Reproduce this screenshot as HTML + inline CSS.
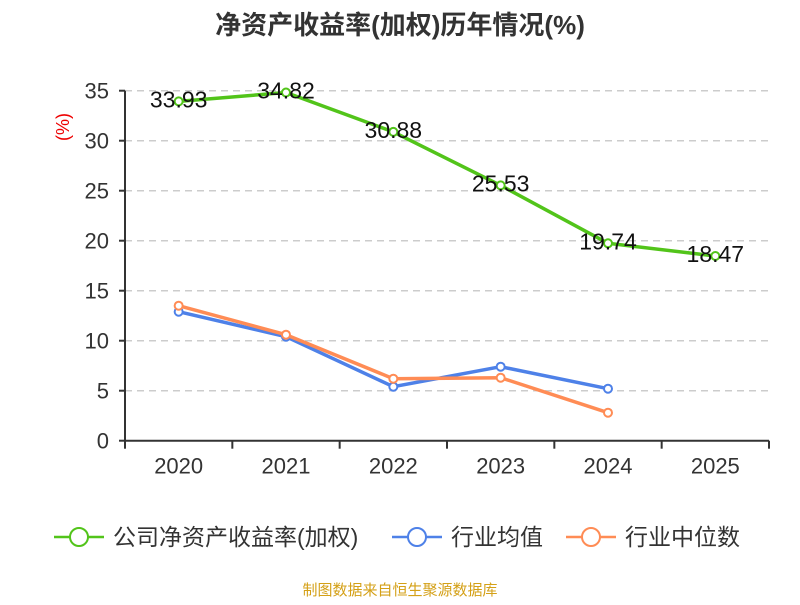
<!DOCTYPE html>
<html><head><meta charset="utf-8"><style>
body{margin:0;background:#fff;}
svg text{font-family:"Liberation Sans","Noto Sans CJK SC",sans-serif;}
</style></head><body>
<svg id="chart" width="800" height="600" viewBox="0 0 800 600" xmlns="http://www.w3.org/2000/svg">
<text x="400" y="34" text-anchor="middle" font-size="26" font-weight="bold" fill="#333">净资产收益率(加权)历年情况(%)</text>
<text transform="translate(69,127) rotate(-90)" text-anchor="middle" font-size="18" fill="#e00">(%)</text>
<g id="grid"></g><g id="axes"></g><g id="series"></g>
<g>
<g><line x1="54" y1="537" x2="104" y2="537" stroke="#52c41a" stroke-width="2.5"/><circle cx="79" cy="537" r="9" fill="#fff" stroke="#52c41a" stroke-width="2"/><text x="113" y="545" font-size="23" fill="#333">公司净资产收益率(加权)</text></g>
<g><line x1="392" y1="537" x2="442" y2="537" stroke="#4e81e8" stroke-width="2.5"/><circle cx="417" cy="537" r="9" fill="#fff" stroke="#4e81e8" stroke-width="2"/><text x="451" y="545" font-size="23" fill="#333">行业均值</text></g>
<g><line x1="566" y1="537" x2="616" y2="537" stroke="#ff8c55" stroke-width="2.5"/><circle cx="591" cy="537" r="9" fill="#fff" stroke="#ff8c55" stroke-width="2"/><text x="625" y="545" font-size="23" fill="#333">行业中位数</text></g>
</g>
<text x="400" y="595" text-anchor="middle" font-size="15" fill="#d4a017">制图数据来自恒生聚源数据库</text>
</svg>
<script>
const categories=["2020","2021","2022","2023","2024","2025"];
const companyValues=[33.93,34.82,30.88,25.53,19.74,18.47];
const avgValues=[12.9,10.4,5.4,7.4,5.2];
const medianValues=[13.5,10.6,6.2,6.3,2.8];
const yTicks=[0,5,10,15,20,25,30,35];
const NS="http://www.w3.org/2000/svg";
const x0=125,x1=769,y0=440.7,pxPer=10;
const band=(x1-x0)/categories.length;
const xPos=i=>x0+band*(i+0.5);
const yPos=v=>y0-v*pxPer;
function mk(tag,attrs,parent){const e=document.createElementNS(NS,tag);for(const k in attrs)e.setAttribute(k,attrs[k]);parent.appendChild(e);return e;}
const grid=document.getElementById('grid'),axes=document.getElementById('axes'),series=document.getElementById('series');
yTicks.forEach(t=>{
  if(t>0){const g=mk('line',{x1:x0,x2:x1,y1:yPos(t),y2:yPos(t),stroke:'#ccc','stroke-width':1.5,'stroke-dasharray':'7,5'},grid);
  
  }
  const tk=mk('line',{x1:x0-6,x2:x0,y1:yPos(t),y2:yPos(t),stroke:'#333','stroke-width':2},axes);
  
  
  const lb=mk('text',{x:x0-16,y:yPos(t)+8,'text-anchor':'end','font-size':22,fill:'#333'},axes);lb.textContent=t;
  
  
});
const ya=mk('line',{x1:x0,x2:x0,y1:yPos(35),y2:y0,stroke:'#333','stroke-width':2},axes);


const xa=mk('line',{x1:x0,x2:x1,y1:y0,y2:y0,stroke:'#333','stroke-width':2},axes);


for(let i=0;i<=categories.length;i++){const t=mk('line',{x1:x0+band*i,x2:x0+band*i,y1:y0,y2:y0+8,stroke:'#333','stroke-width':2},axes);
  
  }
categories.forEach((c,i)=>{const l=mk('text',{x:xPos(i),y:y0+33,'text-anchor':'middle','font-size':22,fill:'#333'},axes);l.textContent=c;
  
  });
function draw(vals,color,name,labels){
  const g=mk('g',{},series);
  
  
  const p=mk('polyline',{points:vals.map((v,i)=>xPos(i)+','+yPos(v)).join(' '),fill:'none',stroke:color,'stroke-width':3.5,'stroke-linejoin':'round'},g);
  
  
  vals.forEach((v,i)=>{const c=mk('circle',{cx:xPos(i),cy:yPos(v),r:4,fill:'#fff',stroke:color,'stroke-width':2},g);
    
    
    if(labels){const t=mk('text',{x:xPos(i),y:yPos(v)+6,'text-anchor':'middle','font-size':23,fill:'#111'},g);t.textContent=v.toFixed(2);
      
      }
  });
}
draw(avgValues,'#4e81e8','industry-average-series',false);
draw(medianValues,'#ff8c55','industry-median-series',false);
draw(companyValues,'#52c41a','company-roe-series',true);
</script>
</body></html>
